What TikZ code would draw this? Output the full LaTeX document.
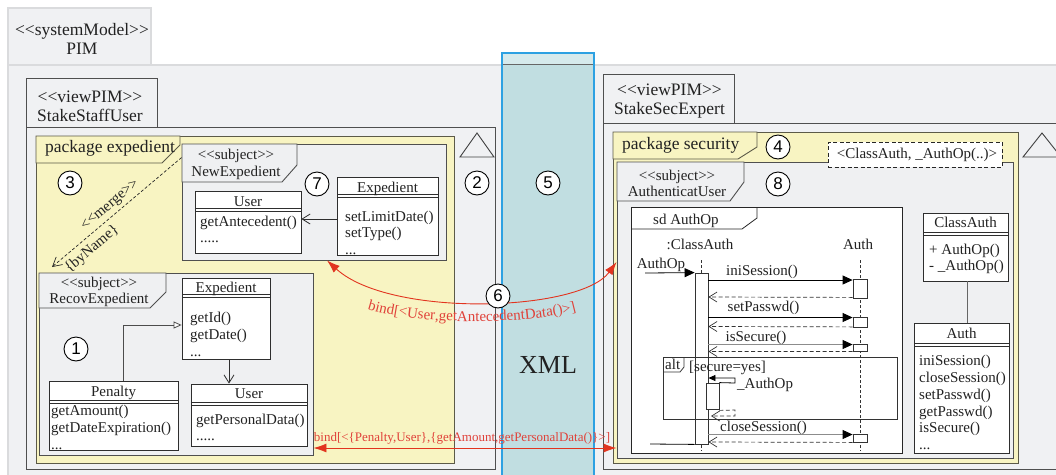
\documentclass[tikz,border=0pt]{standalone}
\usepackage{fontspec}
\setmainfont{Liberation Serif}
\newfontfamily\numfont{Liberation Sans}
\usetikzlibrary{arrows.meta,fit,decorations.text}

\definecolor{pimbg}{HTML}{F0F1F3}
\definecolor{pimline}{HTML}{DADBDD}
\definecolor{frameline}{HTML}{4F4F4F}
\definecolor{pkgyellow}{HTML}{F8F4C2}
\definecolor{pkgline}{HTML}{5C5A48}
\definecolor{subjbg}{HTML}{EFF0F2}
\definecolor{clsline}{HTML}{2E2E2E}
\definecolor{txtcol}{HTML}{222222}
\definecolor{xmlfill}{HTML}{C1DEE1}
\definecolor{xmltop}{HTML}{D6EAEC}
\definecolor{xmlline}{HTML}{2DA1E2}
\definecolor{bindred}{HTML}{E2341F}
\definecolor{bindtext}{HTML}{E0423A}

\newcommand\fsA{\fontsize{17.5}{19}\selectfont}
\newcommand\fsB{\fontsize{15}{16.7}\selectfont}
\newcommand\fsC{\fontsize{13}{14}\selectfont}
\newcommand\fsX{\fontsize{26}{28}\selectfont}
\newcommand\stL{<\kern0pt<}
\newcommand\stR{>\kern0pt>}

% class box: name, left, top, right, bottom, header rule
\newcommand\umlbox[6]{%
  \node[clsbox, fit={(#2,#3)(#4,#5)}] (#1) {};
  \draw[clsrule] (#2,#6) -- (#4,#6) (#2,#6+3.5) -- (#4,#6+3.5);}
% class title: name, centre x, baseline, text
\newcommand\umltitle[4]{\node[txt, anchor=base] (#1) at (#2,#3) {#4};}
% class operations: name, left x, first baseline, lines
\newcommand\umlbody[4]{\node[txt, anchor=north west, align=left] (#1) at (#2,#3-12) {\rule{0pt}{12pt}#4};}

\begin{document}
\begin{tikzpicture}[x=1pt,y=-1pt,
  pimframe/.style={fill=pimbg, draw=pimline, line width=1.4pt},
  view/.style={fill=pimbg, draw=frameline, line width=0.9pt, inner sep=0pt},
  pkgarea/.style={fill=pkgyellow, draw=pkgline, line width=0.9pt, inner sep=0pt},
  subjarea/.style={fill=subjbg, draw=frameline, line width=0.9pt, inner sep=0pt},
  clsbox/.style={draw=clsline, fill=white, line width=0.8pt, inner sep=0pt},
  clsrule/.style={draw=clsline, line width=0.8pt},
  txt/.style={text=txtcol, inner sep=0pt, font=\fsB},
  lbl/.style={text=txtcol, inner sep=0pt, font=\fsA, align=center},
  numc/.style={circle, draw=black, fill=white, line width=0.9pt, minimum size=24pt, inner sep=0pt, font=\numfont\fontsize{17}{17}\selectfont},
  tri/.style={draw=black!75, fill=pimbg, line width=0.9pt},
  nav/.style={draw=clsline, line width=0.8pt, -{Straight Barb[length=8pt,width=10pt]}},
  gen/.style={draw=black!70, line width=0.8pt, -{Triangle[open,length=8pt,width=7pt,fill=white]}},
  merge/.style={draw=black!85, line width=0.7pt, dash pattern=on 3pt off 2pt, -{Straight Barb[length=9pt,width=10pt]}},
  assoc/.style={draw=black!60, line width=0.9pt},
  sdbox/.style={draw=black!85, fill=white, line width=0.8pt, inner sep=0pt},
  altbox/.style={draw=black!80, line width=0.8pt, inner sep=0pt},
  tmpl/.style={draw=black!85, fill=white, line width=0.8pt, dash pattern=on 4pt off 2.5pt, inner sep=0pt},
  lifeline/.style={draw=black!80, line width=0.7pt, dash pattern=on 3pt off 2pt},
  act/.style={draw=black!80, fill=white, line width=0.8pt, inner sep=0pt},
  sync/.style={draw=black, line width=0.8pt, -{Triangle[length=10pt,width=9pt,color=black]}},
  syncgray/.style={draw=black!45, line width=0.8pt, -{Triangle[length=10pt,width=9pt,color=black]}},
  selfsync/.style={draw=black, line width=0.8pt, -{Triangle[length=7pt,width=6pt,color=black]}},
  ret/.style={draw=black!80, line width=0.7pt, dash pattern=on 4pt off 2.5pt, -{Straight Barb[length=8pt,width=10pt]}},
  bind/.style={draw=bindred, line width=0.9pt, {Latex[length=13pt,width=9pt]}-{Latex[length=13pt,width=9pt]}}
]
\useasboundingbox (0,0) rectangle (1056,474);
\clip (0,0) rectangle (1056,474);

% ---------- system model PIM
\filldraw[pimframe] (8,65) rectangle (151,8);
\node[pimframe, inner sep=0pt, fit={(8,65)(1075,490)}] (pim) {};
\node[lbl] (pimlabel) at (82,38.5) {\stL systemModel\stR\\PIM};

% ---------- view StakeStaffUser
\filldraw[view] (26,127) rectangle (157,78);
\node[view, fit={(26,127)(495,469)}] (lview) {};
\node[lbl] (lviewlabel) at (90,106) {\stL viewPIM\stR\\StakeStaffUser};
\draw[tri] (460,157) -- (494,157) -- (477,133) -- cycle;
\node[numc] (n2) at (477,183) {2};

% package expedient
\node[pkgarea, fit={(36,136)(454,463)}] (pkgexp) {};
\filldraw[pkgarea] (36,136) -- (180,136) -- (180,145) -- (162,163) -- (36,163) -- cycle;
\node[lbl, anchor=base west] (pkgexplabel) at (45,152) {package expedient};
\node[numc] (n3) at (70,183) {3};

% subject NewExpedient
\node[subjarea, fit={(182,144)(446,260)}] (newexp) {};
\filldraw[subjarea] (182,144) -- (297,144) -- (297,165) -- (282,182) -- (182,182) -- cycle;
\node[txt, align=center] (newexplabel) at (236,164.5) {\stL subject\stR\\NewExpedient};
\node[numc] (n7) at (317,184) {7};

\umlbox{nuser}{195}{191}{301}{253}{208}
\umltitle{nuser-t}{248}{206}{User}
\umlbody{nuser-b}{200}{226}{getAntecedent()\\.....}

\umlbox{nexp}{337}{177}{438}{255}{194}
\umltitle{nexp-t}{387.5}{192}{Expedient}
\umlbody{nexp-b}{345}{221}{setLimitDate()\\setType()\\...}

\draw[nav] ([yshift=-3pt]nexp.west) -- ([yshift=3pt]nuser.east);

% subject RecovExpedient
\node[subjarea, fit={(39,273)(313,455)}] (recov) {};
\filldraw[subjarea] (39,273) -- (166,273) -- (166,292) -- (150,308) -- (39,308) -- cycle;
\node[txt, align=center] (recovlabel) at (99,292) {\stL subject\stR\\RecovExpedient};
\node[numc] (n1) at (76,349) {1};

\umlbox{rexp}{182}{278}{270}{359}{294}
\umltitle{rexp-t}{226}{292}{Expedient}
\umlbody{rexp-b}{190}{322.5}{getId()\\getDate()\\...}

\umlbox{ruser}{191}{384}{307}{446}{402}
\umltitle{ruser-t}{249}{398}{User}
\umlbody{ruser-b}{196}{424}{getPersonalData()\\.....}

\umlbox{pen}{49}{381}{178}{450}{400}
\umltitle{pen-t}{113.5}{396}{Penalty}
\umlbody{pen-b}{51}{415.5}{getAmount()\\getDateExpiration()\\...}

\draw[gen] ([xshift=9.5pt]pen.north) |- ([yshift=-6.5pt]rexp.west);
\draw[nav] ([xshift=3pt]rexp.south) -- ([xshift=-20pt]ruser.north);

% merge dependency
\coordinate (mergeend) at (52,267);
\draw[merge] ([yshift=-14pt]newexp.north west) -- (mergeend);
\node[txt, rotate=40] (mergelabel) at (110.5,205.5) {\stL merge\stR};
\node[txt, rotate=40] (bynamelabel) at (92,249) {\{byName\}};

% ---------- XML exchange band
\node[draw=xmlline, fill=xmlfill, line width=1.3pt, inner sep=0pt, fit={(502,53)(594,490)}] (xml) {};
\fill[xmltop] (502.7,53.7) rectangle (593.3,64);
\draw[black!60, line width=0.9pt] (502.7,64.5) -- (593.3,64.5);
\node[text=txtcol, font=\fsX, inner sep=0pt] (xmllabel) at (548,365) {XML};
\node[numc] (n5) at (548,183) {5};

% ---------- view StakeSecExpert
\filldraw[view] (603,123) rectangle (734,74);
\node[view, fit={(603,123)(1075,469)}] (rview) {};
\node[lbl] (rviewlabel) at (669.5,101) {\stL viewPIM\stR\\StakeSecExpert};
\draw[tri] (1023,157) -- (1061,157) -- (1042,133) -- cycle;

% package security
\node[pkgarea, fit={(613,132)(1018,463)}] (pkgsec) {};
\filldraw[pkgarea] (613,132) -- (757,132) -- (757,147) -- (738,159) -- (613,159) -- cycle;
\node[lbl, anchor=base west] (pkgseclabel) at (622,149) {package security};
\node[numc] (n4) at (778,147) {4};

% subject AuthenticatUser
\node[subjarea, fit={(617,162)(1013,458)}] (authuser) {};
\filldraw[subjarea] (617,162) -- (744,162) -- (744,182) -- (730,201) -- (617,201) -- cycle;
\node[txt, align=center] (authuserlabel) at (677,183.5) {\stL subject\stR\\AuthenticatUser};
\node[numc] (n8) at (778,184) {8};

\node[tmpl, fit={(828,142)(1002,167)}] (tpl) {};
\node[txt] (tpllabel) at (917,155) {<ClassAuth, \_AuthOp(..)>};

% sequence diagram AuthOp
\node[sdbox, fit={(631,207)(902,453)}] (sd) {};
\draw[black!85, line width=0.8pt] (631,229) -- (742,229) -- (757,218) -- (757,207);
\node[txt, anchor=base west] (sdlabel) at (653,224) {sd AuthOp};

\node[txt, anchor=base] (llca) at (700,249) {:ClassAuth};
\node[txt, anchor=base] (llau) at (858,249) {Auth};
\draw[lifeline] (701,260) -- (701,451);
\draw[lifeline] (860,260) -- (860,451);

\node[act, fit={(695,273)(708,444)}] (caact) {};
\node[act, fit={(853,279)(867,298)}] (a1) {};
\node[act, fit={(853,317)(867,327)}] (a2) {};
\node[act, fit={(853,344)(867,351)}] (a3) {};
\node[act, fit={(853,434)(867,442)}] (a4) {};

\node[altbox, fit={(663,357)(897,419)}] (alt) {};
\draw[black!80, line width=0.8pt] (663,372) -- (680,372) -- (684,367) -- (684,357);
\node[txt, anchor=base west] (altlabel) at (665,369) {alt};
\node[txt, anchor=base west] (guard) at (689,371.5) {[secure=yes]};

\node[act, fit={(706,383)(719,409)}] (ca2) {};

\coordinate (found) at (645,273);
\coordinate (lost) at (650,444);
\draw[sync] (found) -- (caact.north west);
\node[txt, anchor=base] (foundlabel) at (661,268) {AuthOp};
\draw[black, line width=0.8pt] (caact.south west) -- (lost);

\draw[sync] (caact.east |- 0,280) -- (a1.west |- 0,280);
\node[txt, anchor=base] (m1) at (762,275) {iniSession()};
\draw[ret] ([yshift=1pt]a1.south west) -- (caact.east |- 0,297);

\draw[sync] (caact.east |- 0,317.5) -- (a2.west |- 0,317.5);
\node[txt, anchor=base] (m2) at (763.5,311.5) {setPasswd()};
\draw[ret] ([yshift=0.5pt]a2.south west) -- (caact.east |- 0,326.5);

\draw[syncgray] (caact.east |- 0,344.5) -- (a3.west |- 0,344.5);
\node[txt, anchor=base] (m3) at (756,341.5) {isSecure()};
\draw[ret] (a3.south west) -- (caact.east |- 0,351.5);

\draw[selfsync] (ca2.north east) -- (735,383) -- (735,378) -- (caact.east |- 0,378);
\node[txt, anchor=base west] (m4) at (737,388) {\_AuthOp};
\draw[ret] (ca2.south east) ++(0,1) -- (735,410) -- (735,416) -- (711,416);

\draw[syncgray] (caact.east |- 0,434.5) -- (a4.west |- 0,434.5);
\node[txt, anchor=base] (m5) at (763.5,431) {closeSession()};
\draw[ret] (a4.south west) -- (caact.east |- 0,442);

% classes ClassAuth and Auth
\umlbox{cauth}{923}{213}{1008}{281}{232}
\umltitle{cauth-t}{965.5}{227}{ClassAuth}
\umlbody{cauth-b}{929}{254}{+ AuthOp()\\- \_AuthOp()}

\umlbox{authc}{914}{323}{1009}{453}{343}
\umltitle{authc-t}{961.5}{338}{Auth}
\umlbody{authc-b}{919}{365.7}{iniSession()\\closeSession()\\setPasswd()\\getPasswd()\\isSecure()\\...}

\draw[assoc] ([xshift=1.5pt]cauth.south) -- ([xshift=5.5pt]authc.north);

% ---------- bindings between the views
\draw[bind] ([xshift=13pt]newexp.south) .. controls (390,318) and (580,312) .. ([yshift=48pt]authuser.west);
\path[decorate, decoration={text along path, text align=center, text color=bindtext,
  text={|\fsB|bind[<User,getAntecedentData()>]}}]
  (352,303) .. controls (400,327) and (540,327) .. (592,306);
\node[numc] (n6) at (498,296) {6};

\draw[bind] ([yshift=-84pt]recov.east) -- ([yshift=-138pt]authuser.west);
\node[anchor=base, font=\fsC, text=bindtext, inner sep=0pt] (bindlabel) at (462,441)
  {bind[<\{Penalty,User\},\{getAmount,getPersonalData()\}>]};
\end{tikzpicture}
\end{document}
